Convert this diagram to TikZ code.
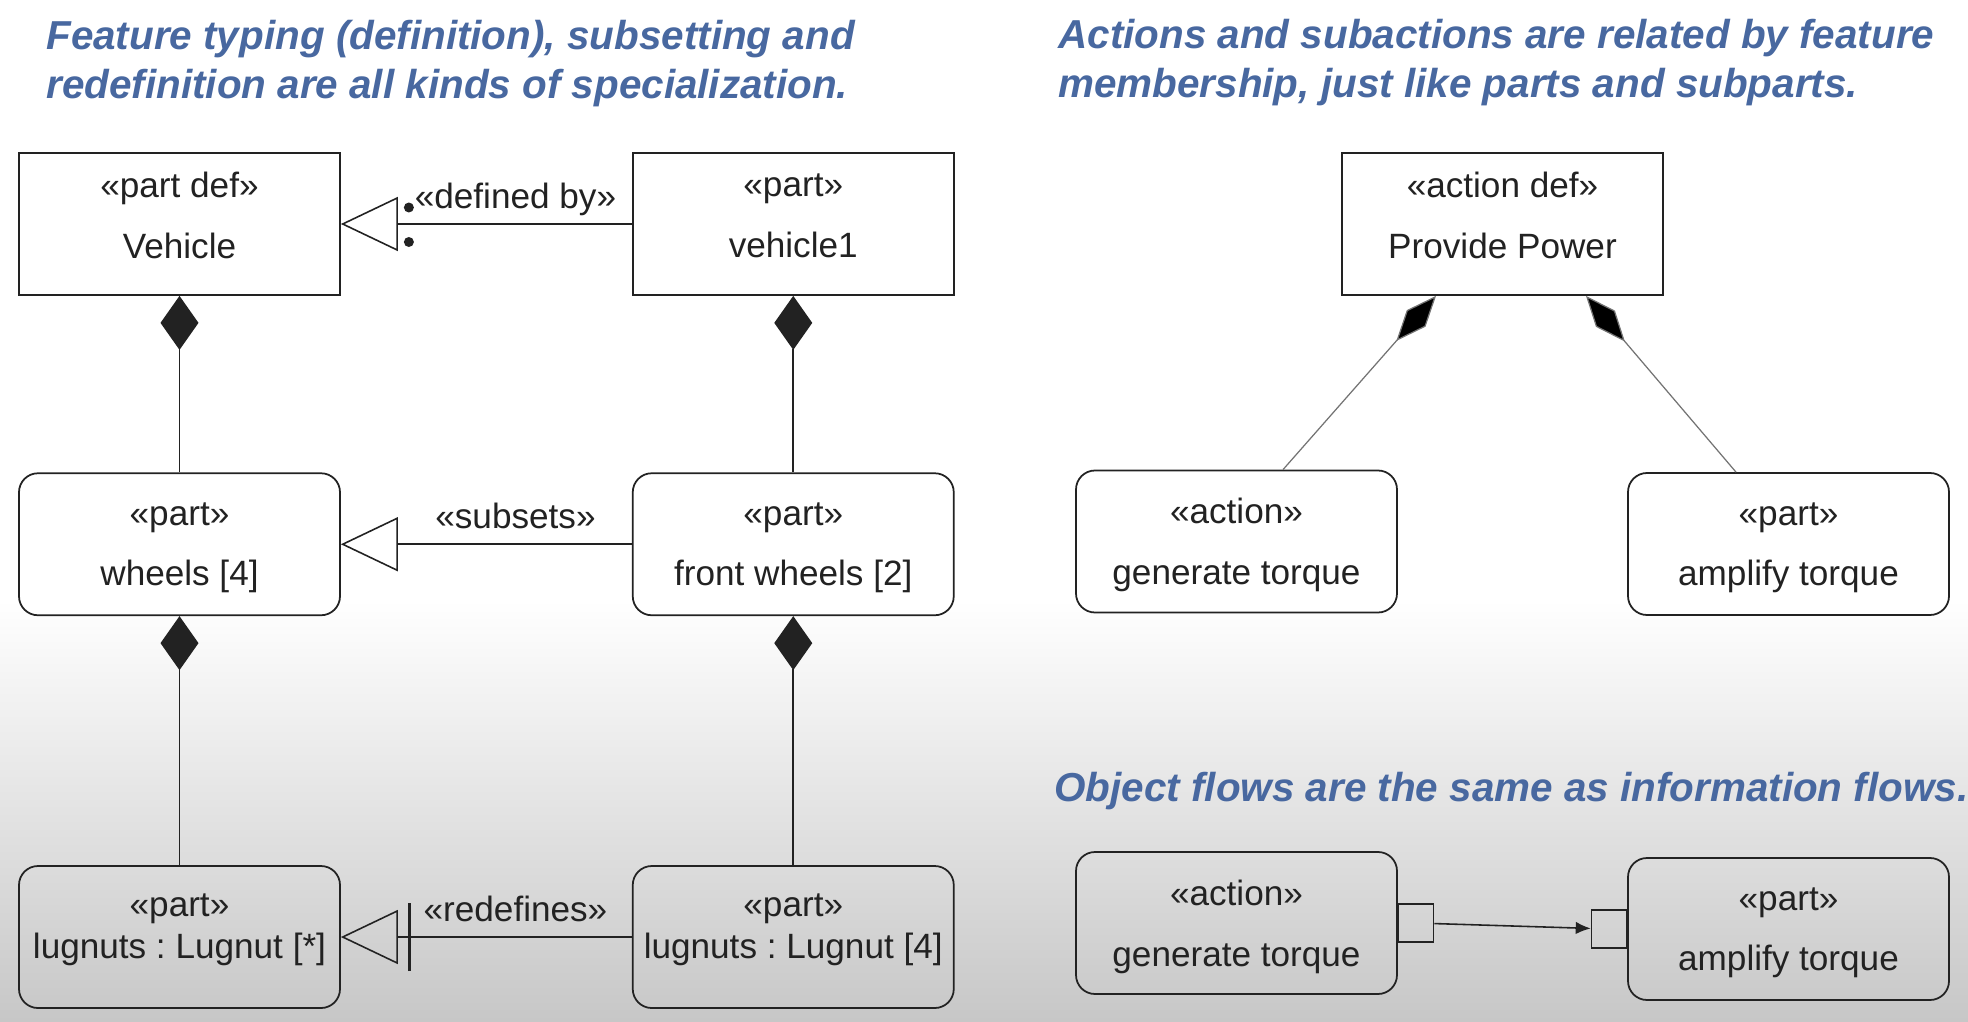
\documentclass[tikz,border=0pt]{standalone}
\usepackage{fontspec}
\setmainfont{Liberation Sans}
\usetikzlibrary{arrows.meta,positioning}
\definecolor{titleblue}{RGB}{72,104,160}
\definecolor{inkgray}{RGB}{34,34,34}
\frenchspacing
\tikzset{
  defbox/.style={
    draw=inkgray,
    fill=white,
    line width=1pt,
    align=center,
    minimum width=6.42cm,
    minimum height=2.84cm,
    text depth=9.8pt,
    text=inkgray,
    font=\fontsize{20}{24}\selectfont
  },
  partbox/.style={
    defbox,
    text depth=0pt,
    rounded corners=0.38cm
  },
  flowbox/.style={
    partbox,
    fill=none
  },
  portbox/.style={
    draw=inkgray,
    line width=0.8pt,
    minimum width=0.7cm,
    minimum height=0.76cm,
    inner sep=0pt
  },
  heading/.style={
    anchor=north west,
    align=left,
    inner sep=0pt,
    text=titleblue,
    font=\fontsize{23}{28}\selectfont\bfseries\itshape
  },
  lbl/.style={
    above,
    inner sep=5pt,
    yshift=0.12cm,
    text depth=0pt,
    text=inkgray,
    font=\fontsize{20}{24}\selectfont
  },
  spec/.style={
    -{Triangle[open,length=1.14cm,width=1.08cm]},
    line width=0.9pt,
    draw=inkgray
  },
  redef/.style={
    -{Bar[width=1.36cm,line width=1.6pt,sep=0.2cm]Triangle[open,length=1.14cm,width=1.08cm]},
    line width=0.9pt,
    draw=inkgray
  },
  comp/.style={
    {Diamond[length=1.08cm,width=0.76cm]}-,
    line width=0.9pt,
    draw=inkgray
  },
  member/.style={
    {Diamond[length=1.2cm,width=0.5cm,fill=black]}-,
    line width=0.7pt,
    draw=black!55
  },
  flow/.style={
    -{Latex[length=0.3cm,width=0.25cm]},
    line width=0.9pt,
    draw=inkgray
  }
}

\begin{document}
\begin{tikzpicture}[node distance=5.82cm]
% background
\fill[white] (0,0) rectangle (39.36,-20.44);
\shade[top color=white, bottom color=black!22] (0,-12) rectangle (39.36,-20.44);
\useasboundingbox (0,0) rectangle (39.36,-20.44);

% headings
\node[heading] (h1) at (0.92,-0.4) {Feature typing (definition), subsetting and\\redefinition are all kinds of specialization.};
\node[heading] (h2) at (21.16,-0.38) {Actions and subactions are related by feature\\membership, just like parts and subparts.};
\node[heading] (h3) at (21.08,-15.43) {Object flows are the same as information flows.};

% specialization
\node[defbox] (veh) at (3.59,-4.48) {«part def»\\[10.5pt]Vehicle};
\node[defbox, right=of veh] (v1) {«part»\\[10.5pt]vehicle1};
\node[partbox, below=3.53cm of veh] (wh) {«part»\\[10.5pt]wheels [4]};
\node[partbox, right=of wh] (fw) {«part»\\[10.5pt]front wheels [2]};
\node[flowbox, text depth=12.7pt, below=4.98cm of wh] (lnA) {«part»\\lugnuts : Lugnut [*]};
\node[flowbox, text depth=12.7pt, right=of lnA] (lnB) {«part»\\lugnuts : Lugnut [4]};
\draw[spec] (v1) -- node[lbl, pos=0.4] {«defined by»} (veh);
\fill[inkgray] ([xshift=1.36cm,yshift=0.33cm]veh.east) circle (0.1cm);
\fill[inkgray] ([xshift=1.36cm,yshift=-0.36cm]veh.east) circle (0.1cm);
\draw[spec] (fw) -- node[lbl, pos=0.4] {«subsets»} (wh);
\draw[redef] (lnB) -- node[lbl, pos=0.4] {«redefines»} (lnA);
\draw[comp] (veh) -- (wh);
\draw[comp] (v1) -- (fw);
\draw[comp] (wh) -- (lnA);
\draw[comp] (fw) -- (lnB);

% membership
\node[defbox] (pp) at (30.05,-4.48) {«action def»\\[10.5pt]Provide Power};
\node[partbox] (gt) at (24.73,-10.83) {«action»\\[10.5pt]generate torque};
\node[partbox] (amp) at (35.77,-10.88) {«part»\\[10.5pt]amplify torque};
\draw[member] ([xshift=-1.33cm]pp.south) -- ([xshift=0.93cm]gt.north);
\draw[member] ([xshift=1.67cm]pp.south) -- ([xshift=-1.05cm]amp.north);

% object flow
\node[flowbox] (gt2) at (24.73,-18.46) {«action»\\[10.5pt]generate torque};
\node[flowbox] (amp2) at (35.77,-18.58) {«part»\\[10.5pt]amplify torque};
\node[portbox, right=0pt of gt2] (out) {};
\node[portbox, left=0pt of amp2] (in) {};
\draw[flow] (out) -- (in);
\end{tikzpicture}
\end{document}
